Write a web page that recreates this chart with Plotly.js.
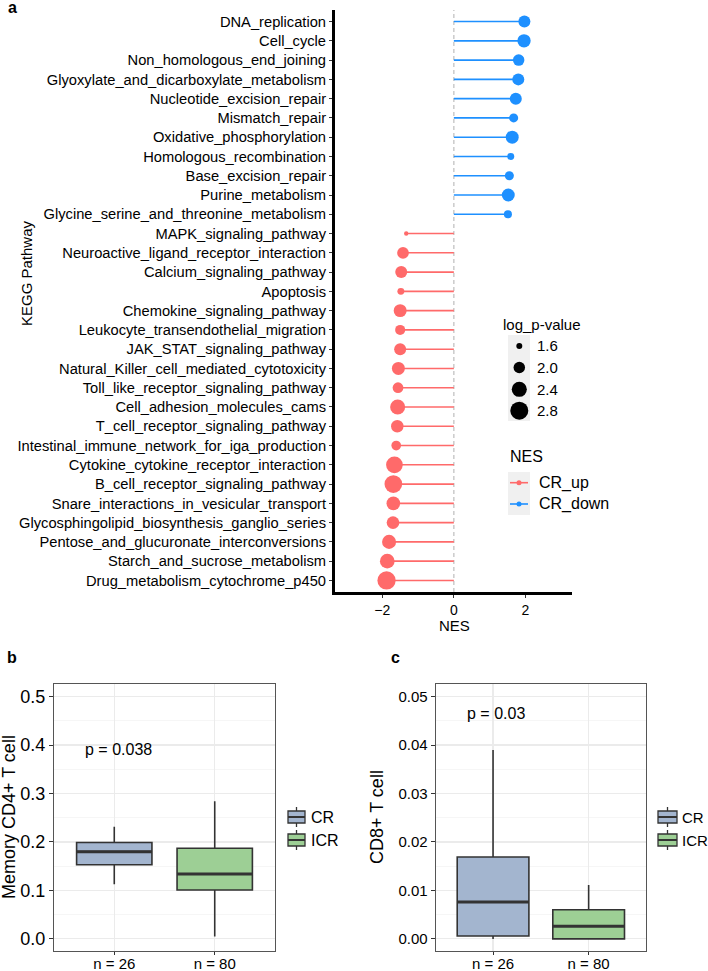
<!DOCTYPE html>
<html>
<head>
<meta charset="utf-8">
<script src="https://cdn.plot.ly/plotly-3.0.1.min.js"></script>
<style>html,body{margin:0;padding:0;background:#fff;}#chart{width:708px;height:971px;}</style>
</head>
<body>
<div id="chart"></div>
<script>
// ---------- Panel a data ----------
const pathways = [
  "DNA_replication","Cell_cycle","Non_homologous_end_joining","Glyoxylate_and_dicarboxylate_metabolism",
  "Nucleotide_excision_repair","Mismatch_repair","Oxidative_phosphorylation","Homologous_recombination",
  "Base_excision_repair","Purine_metabolism","Glycine_serine_and_threonine_metabolism",
  "MAPK_signaling_pathway","Neuroactive_ligand_receptor_interaction","Calcium_signaling_pathway","Apoptosis",
  "Chemokine_signaling_pathway","Leukocyte_transendothelial_migration","JAK_STAT_signaling_pathway",
  "Natural_Killer_cell_mediated_cytotoxicity","Toll_like_receptor_signaling_pathway","Cell_adhesion_molecules_cams",
  "T_cell_receptor_signaling_pathway","Intestinal_immune_network_for_iga_production","Cytokine_cytokine_receptor_interaction",
  "B_cell_receptor_signaling_pathway","Snare_interactions_in_vesicular_transport","Glycosphingolipid_biosynthesis_ganglio_series",
  "Pentose_and_glucuronate_interconversions","Starch_and_sucrose_metabolism","Drug_metabolism_cytochrome_p450"
];
const nesValues = [1.97,1.96,1.81,1.80,1.73,1.67,1.63,1.59,1.55,1.52,1.51,
  -1.33,-1.42,-1.47,-1.48,-1.50,-1.50,-1.50,-1.55,-1.56,-1.57,-1.58,-1.61,-1.66,-1.69,-1.69,-1.70,-1.81,-1.86,-1.88];
const logP = [2.05,2.19,2.00,2.05,2.05,1.79,2.15,1.65,1.79,2.15,1.72,
  1.53,2.02,2.05,1.65,2.15,1.87,2.05,2.15,1.93,2.39,2.10,1.84,2.61,2.75,2.23,2.12,2.27,2.35,2.84];
const nesGroup = ["CR_down","CR_down","CR_down","CR_down","CR_down","CR_down","CR_down","CR_down","CR_down","CR_down","CR_down",
  "CR_up","CR_up","CR_up","CR_up","CR_up","CR_up","CR_up","CR_up","CR_up","CR_up","CR_up","CR_up","CR_up","CR_up","CR_up","CR_up","CR_up","CR_up","CR_up"];
const groupNames = ["CR_up","CR_down"];
const sizeBreaks = [1.6,2.0,2.4,2.8];
const nesTicks = [-2,0,2];

// ---------- Panels b, c data ----------
const boxGroups = ["CR","ICR"];
const boxTickText = ["n = 26","n = 80"];
const cd4 = {q1:[0.153,0.101], median:[0.180,0.134], q3:[0.199,0.187], lower:[0.113,0.005], upper:[0.2315,0.284]};
const cd8 = {q1:[0.0006,0.0], median:[0.0076,0.0026], q3:[0.0169,0.0060], lower:[0.0,0.0], upper:[0.039,0.0111]};
const pText = ["p = 0.038","p = 0.03"];

// ---------- styling ----------
const W = 708, H = 971;
const PX = x => x / W, PY = y => 1 - y / H;
const FONT = "Liberation Sans, Arial, Helvetica, sans-serif";
const groupColor = {CR_up: "#FF6A6A", CR_down: "#1E90FF"};
const boxFill = {CR: "#A3B5CF", ICR: "#9DCF95"};
const sizeFn = v => 15.5 * Math.sqrt(Math.max(v - 1.45, 0.01));

const traces = [];
// lollipop segments and points
groupNames.forEach(g => {
  const sx = [], sy = [], mx = [], my = [], ms = [];
  pathways.forEach((p, i) => {
    if (nesGroup[i] !== g) return;
    sx.push(0, nesValues[i], null); sy.push(p, p, null);
    mx.push(nesValues[i]); my.push(p); ms.push(sizeFn(logP[i]));
  });
  traces.push({type:"scatter", mode:"lines", x:sx, y:sy, xaxis:"x", yaxis:"y",
    line:{color:groupColor[g], width:1.6}, hoverinfo:"skip", showlegend:false});
  traces.push({type:"scatter", mode:"markers", x:mx, y:my, xaxis:"x", yaxis:"y",
    marker:{color:groupColor[g], size:ms, opacity:1, line:{width:0}}, showlegend:false});
});

// boxes
function addBoxes(d, xa, ya) {
  boxGroups.forEach((g, i) => {
    traces.push({type:"box", x:[i], q1:[d.q1[i]], median:[d.median[i]], q3:[d.q3[i]],
      lowerfence:[d.lower[i]], upperfence:[d.upper[i]], width:0.75, whiskerwidth:0,
      fillcolor:boxFill[g], line:{color:"#333333", width:1.6}, boxpoints:false,
      xaxis:xa, yaxis:ya, showlegend:false, hoverinfo:"skip"});
    traces.push({type:"scatter", mode:"lines", x:[i-0.375, i+0.375], y:[d.median[i], d.median[i]],
      line:{color:"#333333", width:3}, xaxis:xa, yaxis:ya, showlegend:false, hoverinfo:"skip"});
  });
}
addBoxes(cd4, "x2", "y2");
addBoxes(cd8, "x3", "y3");

// ---------- shapes & annotations ----------
const shapes = [];
const annotations = [];
shapes.push({type:"line", xref:"x", yref:"y domain", x0:0, x1:0, y0:0, y1:1,
  line:{color:"#BEBEBE", width:1.2, dash:"4px,3px"}, layer:"below"});

// log_p legend
annotations.push({xref:"paper", yref:"paper", x:PX(501), y:PY(325), xanchor:"left", yanchor:"middle",
  text:"log_p-value", showarrow:false, font:{family:FONT, size:15, color:"#000"}});
shapes.push({type:"rect", xref:"paper", yref:"paper", x0:PX(508), x1:PX(530), y0:PY(335), y1:PY(421),
  fillcolor:"#F0F0F0", line:{width:0}, layer:"below"});
const legY = [346, 367.5, 389.3, 410.7];
sizeBreaks.forEach((v, k) => {
  const r = sizeFn(v) / 2, cx = 519.3, cy = legY[k];
  shapes.push({type:"circle", xref:"paper", yref:"paper", x0:PX(cx - r), x1:PX(cx + r), y0:PY(cy + r), y1:PY(cy - r),
    fillcolor:"#000", line:{width:0}});
  annotations.push({xref:"paper", yref:"paper", x:PX(535), y:PY(cy), xanchor:"left", yanchor:"middle",
    text:v.toFixed(1), showarrow:false, font:{family:FONT, size:15, color:"#000"}});
});
// NES legend
annotations.push({xref:"paper", yref:"paper", x:PX(508), y:PY(456), xanchor:"left", yanchor:"middle",
  text:"NES", showarrow:false, font:{family:FONT, size:16, color:"#000"}});
shapes.push({type:"rect", xref:"paper", yref:"paper", x0:PX(508), x1:PX(530), y0:PY(472), y1:PY(515),
  fillcolor:"#F0F0F0", line:{width:0}, layer:"below"});
const nesLegY = [482.7, 504];
groupNames.forEach((g, k) => {
  const cy = nesLegY[k];
  shapes.push({type:"line", xref:"paper", yref:"paper", x0:PX(510), x1:PX(528), y0:PY(cy), y1:PY(cy),
    line:{color:groupColor[g], width:1.6}});
  shapes.push({type:"circle", xref:"paper", yref:"paper", x0:PX(516.5), x1:PX(521.5), y0:PY(cy + 2.5), y1:PY(cy - 2.5),
    fillcolor:groupColor[g], line:{width:0}});
  annotations.push({xref:"paper", yref:"paper", x:PX(537), y:PY(cy), xanchor:"left", yanchor:"middle",
    text:g, showarrow:false, font:{family:FONT, size:16, color:"#000"}});
});

// axis titles panel a
annotations.push({xref:"paper", yref:"paper", x:PX(26), y:PY(273), xanchor:"center", yanchor:"middle", textangle:-90,
  text:"KEGG Pathway", showarrow:false, font:{family:FONT, size:15, color:"#000"}});
annotations.push({xref:"paper", yref:"paper", x:PX(454), y:PY(625), xanchor:"center", yanchor:"middle",
  text:"NES", showarrow:false, font:{family:FONT, size:15, color:"#000"}});

// panel labels
[["a",12,7],["b",12,657],["c",395,657]].forEach(([t,x,y]) => {
  annotations.push({xref:"paper", yref:"paper", x:PX(x), y:PY(y), xanchor:"center", yanchor:"middle",
    text:"<b>"+t+"</b>", showarrow:false, font:{family:FONT, size:16, color:"#000"}});
});

// box panels titles, p-values, legends
annotations.push({xref:"paper", yref:"paper", x:PX(9), y:PY(817), xanchor:"center", yanchor:"middle", textangle:-90,
  text:"Memory CD4+ T cell", showarrow:false, font:{family:FONT, size:18, color:"#000"}});
annotations.push({xref:"paper", yref:"paper", x:PX(377), y:PY(817), xanchor:"center", yanchor:"middle", textangle:-90,
  text:"CD8+ T cell", showarrow:false, font:{family:FONT, size:18, color:"#000"}});
annotations.push({xref:"x2", yref:"y2", x:0.04, y:0.39, xanchor:"center", yanchor:"middle",
  text:pText[0], showarrow:false, font:{family:FONT, size:16, color:"#000"}});
annotations.push({xref:"x3", yref:"y3", x:0.03, y:0.0466, xanchor:"center", yanchor:"middle",
  text:pText[1], showarrow:false, font:{family:FONT, size:16, color:"#000"}});

function boxLegend(x0, x1, labelX, fs) {
  const keyY = [817, 840];
  boxGroups.forEach((g, k) => {
    const cy = keyY[k], cx = (x0 + x1) / 2;
    shapes.push({type:"line", xref:"paper", yref:"paper", x0:PX(cx), x1:PX(cx), y0:PY(cy - 10), y1:PY(cy + 10),
      line:{color:"#333", width:1.3}});
    shapes.push({type:"rect", xref:"paper", yref:"paper", x0:PX(x0), x1:PX(x1), y0:PY(cy + 6), y1:PY(cy - 6),
      fillcolor:boxFill[g], line:{color:"#333", width:1.3}});
    shapes.push({type:"line", xref:"paper", yref:"paper", x0:PX(x0), x1:PX(x1), y0:PY(cy), y1:PY(cy),
      line:{color:"#333", width:2}});
    annotations.push({xref:"paper", yref:"paper", x:PX(labelX), y:PY(cy), xanchor:"left", yanchor:"middle",
      text:g, showarrow:false, font:{family:FONT, size:fs, color:"#000"}});
  });
}
boxLegend(288, 305, 309, 16);
boxLegend(658, 677, 680, 15);

const boxX = (dom) => ({domain:dom, range:[-0.6,1.6], tickvals:[0,1], ticktext:boxTickText, ticks:"outside",
  ticklen:3, tickcolor:"#333", showgrid:true, gridcolor:"#EBEBEB", gridwidth:1.2, zeroline:false,
  showline:true, mirror:true, linecolor:"#555", linewidth:1, ticklabelstandoff:-4,
  tickfont:{family:FONT, size:15, color:"#000"}});
const yDomB = [PY(951), PY(684)];

const layout = {
  width:W, height:H, margin:{l:0,r:0,t:0,b:0}, paper_bgcolor:"#fff", plot_bgcolor:"#fff",
  showlegend:false, font:{family:FONT, color:"#000"},
  xaxis:{domain:[PX(335), PX(572)], anchor:"y", range:[-3.32,3.30], tickvals:nesTicks, ticks:"outside", ticklen:3,
    tickcolor:"#333", showgrid:false, zeroline:false, showline:true, linecolor:"#000", linewidth:3,
    tickfont:{family:FONT, size:14, color:"#000"}},
  yaxis:{domain:[PY(592), PY(10)], anchor:"x", type:"category", categoryorder:"array", categoryarray:pathways,
    range:[29.6,-0.6], ticks:"outside", ticklen:3, tickcolor:"#333", showgrid:false, zeroline:false,
    showline:true, linecolor:"#000", linewidth:3, tickfont:{family:FONT, size:14.7, color:"#000"}},
  xaxis2:Object.assign(boxX([PX(54), PX(275)]), {anchor:"y2"}),
  yaxis2:{domain:yDomB, anchor:"x2", range:[-0.025,0.526], tickvals:[0,0.1,0.2,0.3,0.4,0.5], tickformat:".1f",
    ticks:"outside", ticklen:4, tickcolor:"#333", showgrid:true, gridcolor:"#EBEBEB", gridwidth:1.2, zeroline:false,
    minor:{tickvals:[0.05,0.15,0.25,0.35,0.45], showgrid:true, gridcolor:"#F4F4F4", gridwidth:0.8, ticks:""},
    showline:true, mirror:true, linecolor:"#555", linewidth:1, tickfont:{family:FONT, size:18, color:"#000"}},
  xaxis3:Object.assign(boxX([PX(435.7), PX(646)]), {anchor:"y3"}),
  yaxis3:{domain:yDomB, anchor:"x3", range:[-0.0025,0.0526], tickvals:[0,0.01,0.02,0.03,0.04,0.05], tickformat:".2f",
    ticks:"outside", ticklen:4, tickcolor:"#333", showgrid:true, gridcolor:"#EBEBEB", gridwidth:1.2, zeroline:false,
    minor:{tickvals:[0.005,0.015,0.025,0.035,0.045], showgrid:true, gridcolor:"#F4F4F4", gridwidth:0.8, ticks:""},
    showline:true, mirror:true, linecolor:"#555", linewidth:1, tickfont:{family:FONT, size:15, color:"#000"}},
  shapes:shapes, annotations:annotations
};

Plotly.newPlot("chart", traces, layout, {staticPlot:true, displayModeBar:false});
</script>
</body>
</html>
